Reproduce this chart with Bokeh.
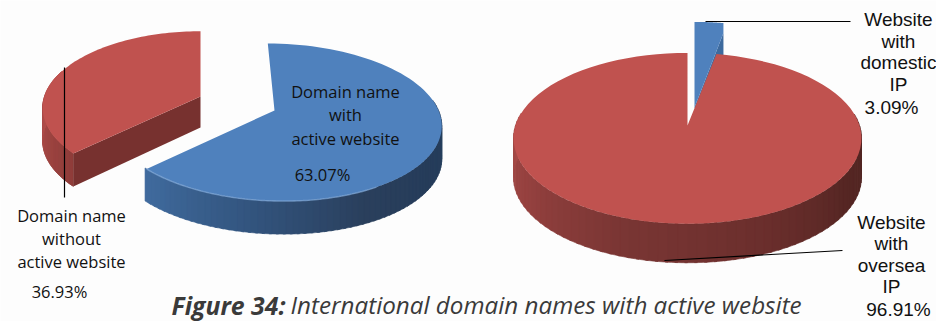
import numpy as np
from bokeh.plotting import figure
from bokeh.models import Range1d
from bokeh.core.properties import value
from bokeh.embed import file_html
from bokeh.resources import INLINE

# ---- data ----
active_labels = ["Domain name with active website", "Domain name without active website"]
active_values = [63.07, 36.93]
ip_labels = ["Website with domestic IP", "Website with oversea IP"]
ip_values = [3.09, 96.91]

RED_TOP = "#c0524f"
BLUE_TOP = "#4f81bd"

p = figure(width=936, height=321, output_backend="svg", toolbar_location=None,
           x_range=Range1d(0, 936), y_range=Range1d(321, 0),
           min_border=0, margin=(0, -16, -16, 0),
           background_fill_color="#fdfdfd", border_fill_color="#fdfdfd")
p.xaxis.visible = False
p.yaxis.visible = False
p.grid.visible = False
p.outline_line_color = None


def rim(cx, cy, a, b, t0, t1, persp=0.15, skew=0.0, n=90):
    t = np.radians(np.linspace(t0, t1, n))
    s = 1 / (1 + persp * np.cos(t))
    dy = -b * np.cos(t) * s
    return cx + a * np.sin(t) * s + skew * dy, cy + dy


def mix(c0, c1, f):
    c0 = [int(c0[i:i + 2], 16) for i in (1, 3, 5)]
    c1 = [int(c1[i:i + 2], 16) for i in (1, 3, 5)]
    return "#%02x%02x%02x" % tuple(int(round(u + (v - u) * f)) for u, v in zip(c0, c1))


def shade(stops, f):
    f = min(max(f, 0), 1) * (len(stops) - 1)
    i = min(int(f), len(stops) - 2)
    return mix(stops[i], stops[i + 1], f - i)


def wall(cx, cy, a, b, t0, t1, h, stops, skew=0.0, n=70):
    """Curved outer wall; colour runs along the arc in screen x."""
    edges = np.linspace(t0, t1, n + 1)
    for k in range(n):
        x, y = rim(cx, cy, a, b, edges[k], edges[k + 1] + 0.8, skew=skew, n=5)
        c = shade(stops, (k + .5) / n)
        p.patch(np.r_[x, x[::-1]], np.r_[y, y[::-1] + h], fill_color=c, line_color=c, line_width=0.6)


def pct_to_deg(v):
    return 360.0 * v / 100.0


# ---- left pie ----
blue_end = pct_to_deg(active_values[0])
bx, by, ba, bb, bh, bskew = 274, 110, 164, 77, 33, 0.1
wall(bx, by, ba, bb, 82, blue_end, bh,
     ["#2c4666", "#253c5a", "#2a3f5c", "#33557f", "#406b9e"], skew=bskew)
x, y = rim(bx, by, ba, bb, 0, blue_end, skew=bskew)
p.patch(np.r_[bx, x], np.r_[by, y], fill_color=BLUE_TOP, line_color=None)
sx, sy = rim(bx, by, ba, bb, 150, blue_end, skew=bskew)
p.line(sx, sy, line_color="#7fa6d6", line_width=1.5, line_alpha=0.7)

red_start = blue_end
rx, ry, ra, rb, rh = 200, 96, 156, 75, 33
x, y = rim(rx, ry, ra, rb, red_start, 300)
x0, y0 = x[0], y[0]
wall(rx, ry, ra, rb, red_start, 290, rh, ["#8f3d3a", "#a84a47", "#bd5450"])
p.patch([rx, x0, x0, rx], [ry, y0, y0 + rh, ry + rh - 2], fill_color="#77312f", line_color=None)
x, y = rim(rx, ry, ra, rb, red_start, 360)
p.patch(np.r_[rx, x], np.r_[ry, y], fill_color=RED_TOP, line_color=None)

# ---- right pie ----
cx, cy, ca, cb, ch = 687, 125, 172, 83.5, 39
ip_deg = pct_to_deg(ip_values[0])

# exploded blue slice
ux, uy = 694, 94
x, y = rim(ux, uy, ca, cb, 0, ip_deg)
ax_, ay_ = ux, uy + 13
ex_, ey_ = x[-1], y[-1] + 10
p.patch([ax_, ex_, ex_, ax_ + 6], [ay_, ey_, ey_ + 30, ay_ + 8], fill_color="#3d6a9e", line_color=None)
p.patch(np.r_[ax_, x, ex_], np.r_[ay_, y, ey_], fill_color=BLUE_TOP, line_color=None)

# main red slice
wall(cx, cy, ca, cb, 82, 278, ch,
     ["#4f2522", "#552623", "#6c2f2d", "#7a3634", "#95413f", "#a84c49"])
x, y = rim(cx, cy, ca, cb, ip_deg, 360)
p.patch(np.r_[cx, x], np.r_[cy, y], fill_color=RED_TOP, line_color=None)

# ---- leader lines ----
p.line([64, 64], [67, 197], line_color="black", line_width=1.2)
p.line([705, 850], [21, 21], line_color="black", line_width=1.2)
p.line([664, 842], [260, 250], line_color="black", line_width=1.2)

# ---- texts ----
def txt(xs, ys, texts, font, size, color="#111111", align="center", style="normal"):
    p.text(xs, ys, text=texts, text_font=value(font), text_font_size=size,
           text_color=color, text_align=align, text_baseline="middle", text_font_style=style)


LEFT_SIZE = "16.5px"
RIGHT_SIZE = "19px"
txt([345, 345, 345], [91, 114, 138], ["Domain name", "with", "active website"], "Open Sans", LEFT_SIZE)
txt([322], [174], ["%.2f%%" % active_values[0]], "Open Sans", LEFT_SIZE)
txt([71, 71, 71], [215, 238, 261], ["Domain name", "without", "active website"], "Open Sans", LEFT_SIZE)
txt([59], [291], ["%.2f%%" % active_values[1]], "Open Sans", LEFT_SIZE)
txt([898, 898, 898, 898], [19, 41, 62, 84], ["Website", "with", "domestic", "IP"], "Liberation Sans", RIGHT_SIZE)
txt([891], [107], ["%.2f%%" % ip_values[0]], "Liberation Sans", RIGHT_SIZE)
txt([891, 891, 891, 891], [222, 243, 265, 286], ["Website", "with", "oversea", "IP"], "Liberation Sans", RIGHT_SIZE)
txt([898], [309], ["%.2f%%" % ip_values[1]], "Liberation Sans", RIGHT_SIZE)

txt([171], [304], ["Figure 34:"], "Open Sans", "24.8px", "#3a3a3a", "left", "bold italic")
txt([290], [304], ["International domain names with active website"], "Open Sans", "24.2px", "#3a3a3a", "left", "italic")

open("out.html", "w").write(file_html(p, INLINE))
